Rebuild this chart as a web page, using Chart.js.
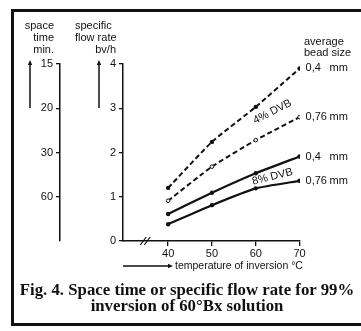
<!DOCTYPE html>
<html>
<head>
<meta charset="utf-8">
<title>Space time / specific flow rate</title>
<script src="https://cdn.jsdelivr.net/npm/chart.js@4/dist/chart.umd.min.js"></script>
<style>
  html, body { margin: 0; padding: 0; background: #fff; }
  #wrap { position: relative; width: 361px; height: 331px; overflow: hidden; }
  #frame {
    position: absolute; left: 11px; top: 9px; width: 400px; height: 311px;
    border: 3px solid #111;
  }
  #chart { position: absolute; left: 0; top: 0; }
  #caption {
    position: absolute; left: 12px; top: 282px; width: 350px;
    text-align: center; color: #111;
    font: bold 16.8px/16px "Liberation Serif", "Times New Roman", serif;
  }
</style>
</head>
<body>
<div id="wrap">
  <div id="frame"></div>
  <canvas id="chart" width="361" height="331"></canvas>
  <div id="caption">Fig. 4. Space time or specific flow rate for 99%<br>inversion of 60°Bx solution</div>
</div>
<script>
// temperatura de inversión (°C)
const temperatures = [40, 50, 60, 70];

// caudal específico (bv/h) por resina y tamaño de perla
const dvb4Bead040 = [1.20, 2.24, 3.03, 3.90];
const dvb4Bead076 = [0.91, 1.68, 2.28, 2.80];
const dvb8Bead040 = [0.61, 1.09, 1.53, 1.91];
const dvb8Bead076 = [0.38, 0.81, 1.19, 1.36];

const beadSizes = ['0,4', '0,76', '0,4', '0,76'];
const flowTicks = [0, 1, 2, 3, 4];
const spaceTimeTicks = [15, 20, 30, 60]; // min, = 60 / caudal
const tempTicks = [40, 50, 60, 70];

const ink = '#111';
const font = { family: '"Liberation Sans", Arial, sans-serif', size: 11 };

function serie(values, dashed, hollow) {
    return {
        data: temperatures.map((t, i) => ({ x: t, y: values[i] })),
        borderColor: ink,
        borderWidth: dashed ? 2 : 2.2,
        borderDash: dashed ? [5, 3] : [],
        tension: 0.15,
        pointRadius: hollow ? 1.8 : 2.2,
        pointBorderWidth: hollow ? 1 : 0,
        pointBackgroundColor: hollow ? '#fff' : ink,
        pointBorderColor: ink
    };
}

// ejes con línea, marcas hacia fuera y sin rejilla
function ejeBase(extra) {
    return Object.assign({
        type: 'linear',
        grid: { display: true, drawOnChartArea: false, drawTicks: true, tickLength: 4, color: ink, lineWidth: 1.3 },
        border: { display: true, color: ink, width: 1.5 },
        ticks: { color: ink, font: font, padding: 3, autoSkip: false, maxRotation: 0 }
    }, extra);
}

function flecha(ctx, x1, y1, x2, y2) {
    const ang = Math.atan2(y2 - y1, x2 - x1);
    ctx.beginPath();
    ctx.moveTo(x1, y1);
    ctx.lineTo(x2 - 3 * Math.cos(ang), y2 - 3 * Math.sin(ang));
    ctx.stroke();
    ctx.beginPath();
    ctx.moveTo(x2, y2);
    ctx.lineTo(x2 - 5 * Math.cos(ang) + 2.2 * Math.sin(ang), y2 - 5 * Math.sin(ang) - 2.2 * Math.cos(ang));
    ctx.lineTo(x2 - 5 * Math.cos(ang) - 2.2 * Math.sin(ang), y2 - 5 * Math.sin(ang) + 2.2 * Math.cos(ang));
    ctx.closePath();
    ctx.fill();
}

// textos del gráfico: encabezados de ejes, rótulos de series, corte del eje x
const rotulos = {
    id: 'rotulos',
    afterDatasetsDraw(chart) {
        const { ctx, scales: { x, y } } = chart;
        ctx.save();
        ctx.fillStyle = ink;
        ctx.strokeStyle = ink;
        ctx.font = '11px "Liberation Sans", Arial, sans-serif';
        ctx.textBaseline = 'middle';

        // tamaño de perla al final de cada curva
        chart.data.datasets.forEach((ds, i) => {
            const pts = chart.getDatasetMeta(i).data;
            const p = pts[pts.length - 1];
            ctx.textAlign = 'left';
            ctx.fillText(beadSizes[i], p.x + 6, p.y);
            ctx.fillText('mm', p.x + 30, p.y);
        });
        ctx.fillText('average', 304, 42);
        ctx.fillText('bead size', 304, 53);

        // tipo de resina, inclinado sobre las curvas
        const inclinado = (txt, xv, yv, deg) => {
            ctx.save();
            ctx.translate(x.getPixelForValue(xv), y.getPixelForValue(yv));
            ctx.rotate(deg * Math.PI / 180);
            ctx.textAlign = 'center';
            ctx.fillText(txt, 0, 0);
            ctx.restore();
        };
        inclinado('4% DVB', 63.8, 2.92, -27);
        inclinado('8% DVB', 63.8, 1.45, -14);

        // encabezados de los ejes verticales
        ctx.textAlign = 'right';
        ctx.fillText('space', 54, 26);
        ctx.fillText('time', 54, 38);
        ctx.fillText('min.', 54, 50);
        ctx.textAlign = 'left';
        ctx.fillText('specific', 75, 26);
        ctx.fillText('flow rate', 75, 38);
        ctx.textAlign = 'right';
        ctx.fillText('bv/h', 116, 50);
        ctx.lineWidth = 1.5;
        flecha(ctx, 30, 108, 30, 60);
        flecha(ctx, 99, 108, 99, 60);

        // título del eje x
        const yb = y.getPixelForValue(0);
        flecha(ctx, x.left, yb + 25, x.left + 50, yb + 25);
        ctx.font = '10.5px "Liberation Sans", Arial, sans-serif';
        ctx.textAlign = 'left';
        ctx.fillText('temperature of inversion °C', x.left + 52, yb + 25);

        // corte del eje x
        const xc = x.getPixelForValue(35);
        ctx.lineWidth = 1.2;
        ctx.beginPath();
        ctx.moveTo(xc - 6, yb + 4); ctx.lineTo(xc, yb - 4);
        ctx.moveTo(xc - 2, yb + 4); ctx.lineTo(xc + 4, yb - 4);
        ctx.stroke();
        ctx.restore();
    }
};

new Chart(document.getElementById('chart'), {
    type: 'line',
    data: {
        datasets: [
            serie(dvb4Bead040, true, false),
            serie(dvb4Bead076, true, true),
            serie(dvb8Bead040, false, false),
            serie(dvb8Bead076, false, false)
        ]
    },
    options: {
        responsive: false,
        animation: false,
        layout: { padding: { top: 64, right: 61, bottom: 70, left: 0 } },
        plugins: { legend: { display: false }, tooltip: { enabled: false } },
        scales: {
            x: ejeBase({
                min: 29.7, max: 70.1,
                grid: { display: true, drawOnChartArea: false, drawTicks: true, tickLength: 5, color: ink, lineWidth: 1.3 },
                ticks: { color: ink, font: font, padding: 1, autoSkip: false, maxRotation: 0 },
                afterBuildTicks: s => { s.ticks = tempTicks.map(v => ({ value: v })); },
                afterFit: s => { s.height = 20; }
            }),
            y: ejeBase({
                position: 'left', weight: 0, min: 0, max: 4,
                afterBuildTicks: s => { s.ticks = flowTicks.map(v => ({ value: v })); },
                afterFit: s => { s.width = 63; }
            }),
            spaceTime: ejeBase({
                position: 'left', weight: 1, min: 0, max: 4,
                afterBuildTicks: s => { s.ticks = spaceTimeTicks.map(t => ({ value: 60 / t })); },
                ticks: { color: ink, font: font, padding: 3, autoSkip: false, callback: v => Math.round(60 / v) },
                afterFit: s => { s.width = 60; }
            })
        }
    },
    plugins: [rotulos]
});
</script>
</body>
</html>
